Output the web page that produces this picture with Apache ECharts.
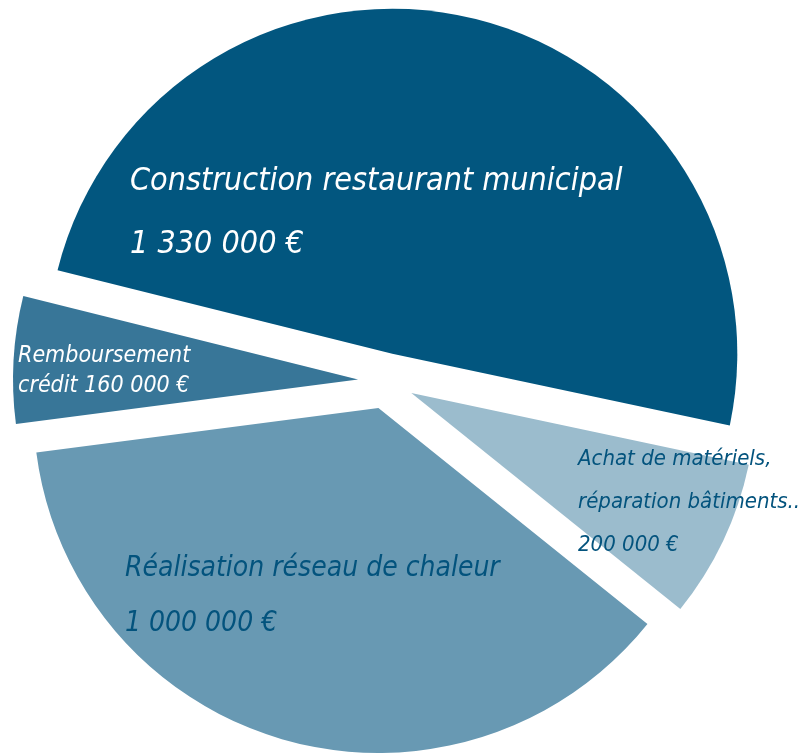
<!DOCTYPE html>
<html>
<head>
<meta charset="utf-8">
<script src="https://cdn.jsdelivr.net/npm/echarts@6/dist/echarts.min.js"></script>
<style>
html,body{margin:0;padding:0;background:#ffffff;}
#chart{width:800px;height:754px;}
</style>
</head>
<body>
<div id="chart"></div>
<script>
// Data
const categories = [
  'Construction restaurant municipal',
  'Achat de matériels,\nréparation bâtiments...',
  'Réalisation réseau de chaleur',
  'Remboursement\ncrédit'
];
const values = [1330000, 200000, 1000000, 160000];

// Styles (kept separate from data)
const sliceColors = ['#02567f', '#9bbccd', '#6899b3', '#387698'];
const labelColors = ['#ffffff', '#03537d', '#03537d', '#ffffff'];
const labelSizes = [32, 22, 28, 23];
const labelLineHeights = [63, 43, 55, 30];
const labelAnchors = [[130, 213], [578, 502], [125, 596], [18, 371]];
const valueSep = ['\n', '\n', '\n', ' '];
const FONT = '"DejaVu Sans Condensed", "Liberation Sans Narrow", "Roboto Condensed", sans-serif';

function fmt(v) {
  return String(v).replace(/\B(?=(\d{3})+(?!\d))/g, ' ') + ' €';
}

const chart = echarts.init(document.getElementById('chart'), null, {renderer: 'canvas'});
chart.setOption({
  animation: false,
  graphic: categories.map(function (c, i) {
    return {
      type: 'text',
      x: labelAnchors[i][0],
      y: labelAnchors[i][1],
      z: 100,
      silent: true,
      style: {
        text: c + valueSep[i] + fmt(values[i]),
        fill: labelColors[i],
        fontSize: labelSizes[i],
        lineHeight: labelLineHeights[i],
        fontFamily: FONT,
        fontStyle: 'italic',
        align: 'left',
        verticalAlign: 'middle'
      }
    };
  }),
  series: [{
    type: 'pie',
    center: [386, 381],
    radius: 345,
    startAngle: 166,
    clockwise: true,
    selectedMode: 'multiple',
    selectedOffset: 28,
    avoidLabelOverlap: false,
    emphasis: {disabled: true},
    labelLine: {show: false},
    label: {show: false},
    data: categories.map(function (c, i) {
      return {
        name: c,
        value: values[i],
        selected: true,
        itemStyle: {color: sliceColors[i]}
      };
    })
  }]
});
</script>
</body>
</html>
